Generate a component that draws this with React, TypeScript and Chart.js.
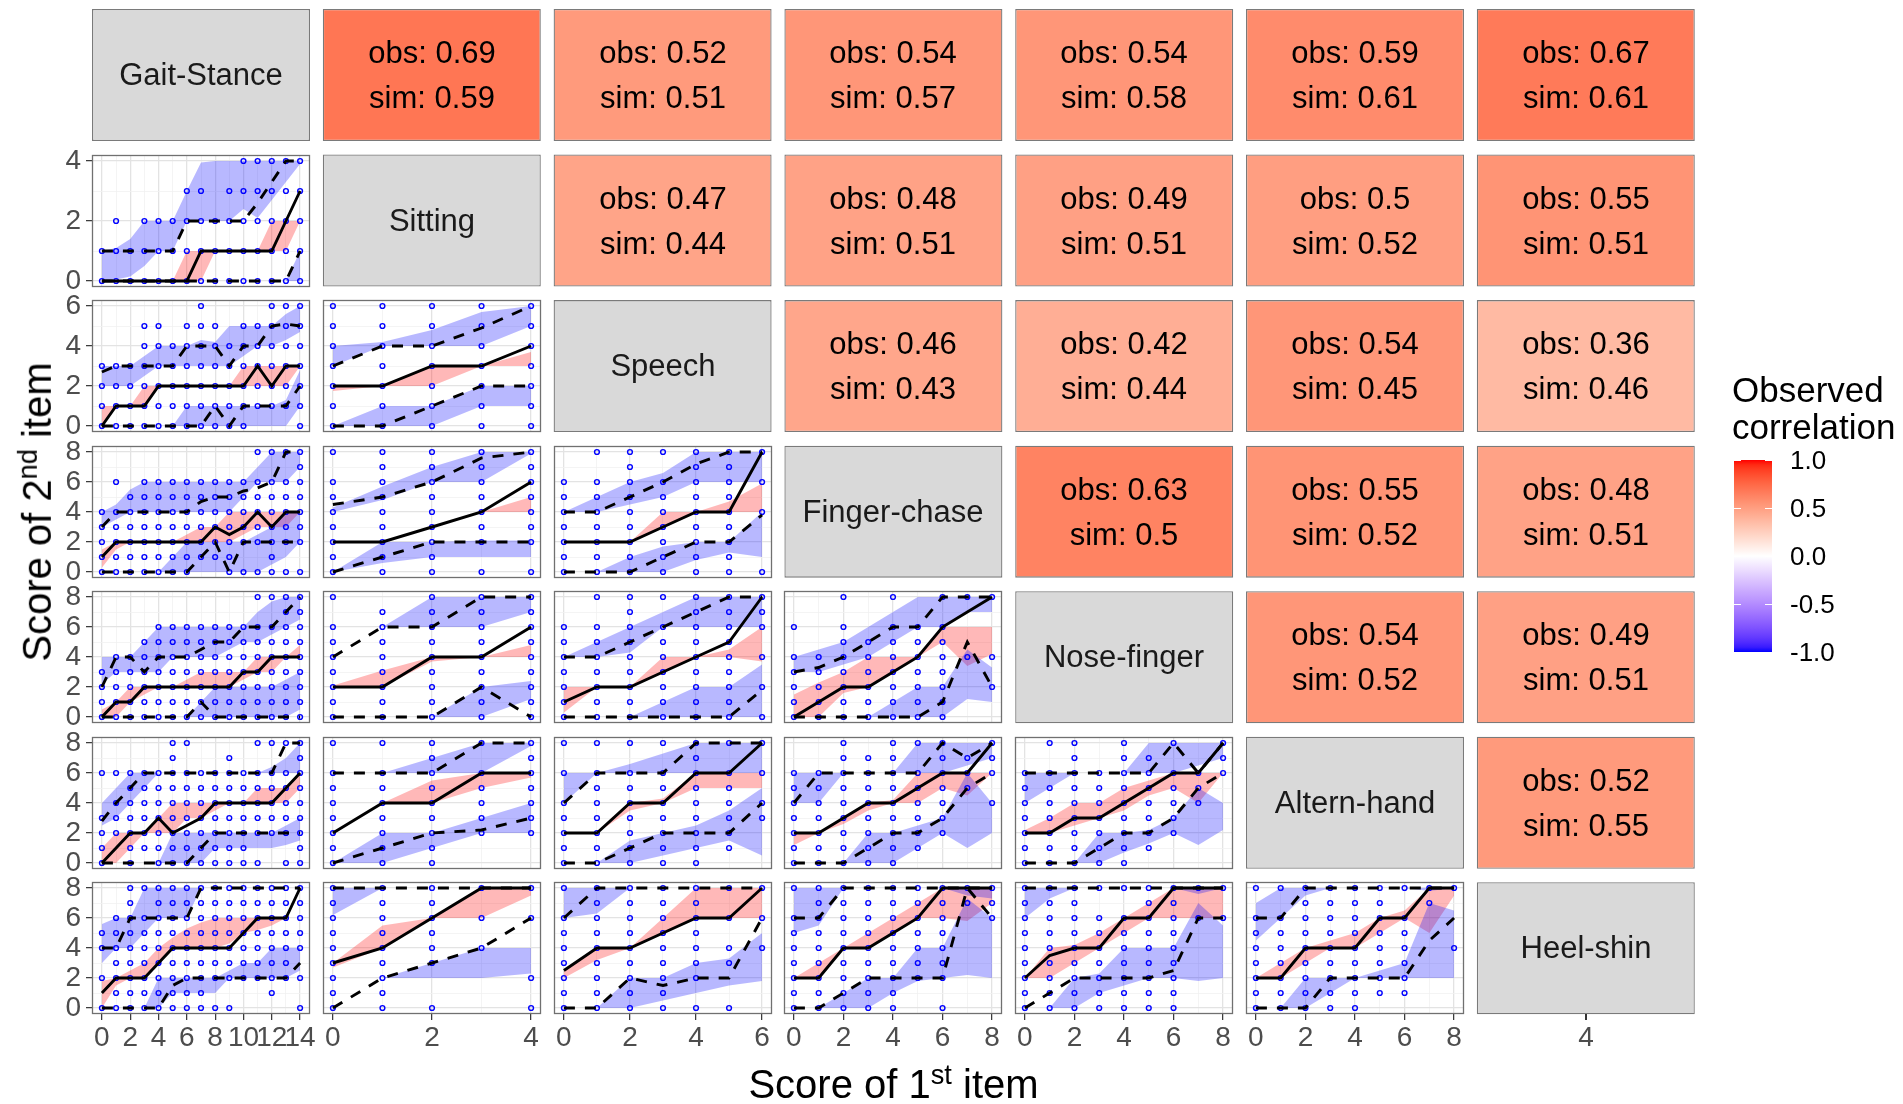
import React, { useEffect, useRef } from 'react';
import { Chart, registerables } from 'chart.js';

Chart.register(...registerables);

const FONT = '"Liberation Sans", Arial, Helvetica, sans-serif';

// ================= DATA =================
const ITEMS = ['Gait-Stance', 'Sitting', 'Speech', 'Finger-chase', 'Nose-finger', 'Altern-hand', 'Heel-shin'];
const ITEM_MAX = [14, 4, 6, 8, 8, 8, 8];
const ITEM_BREAKS = [
  [0, 2, 4, 6, 8, 10, 12, 14],
  [0, 2, 4],
  [0, 2, 4, 6],
  [0, 2, 4, 6, 8],
  [0, 2, 4, 6, 8],
  [0, 2, 4, 6, 8],
  [0, 2, 4, 6, 8],
];
const HEEL_AXIS_LABEL = '4';

// upper triangle: observed / simulated correlations (row item vs later items)
const OBS_GAIT = [0.69, 0.52, 0.54, 0.54, 0.59, 0.67];
const SIM_GAIT = [0.59, 0.51, 0.57, 0.58, 0.61, 0.61];
const OBS_SIT = [0.47, 0.48, 0.49, 0.5, 0.55];
const SIM_SIT = [0.44, 0.51, 0.51, 0.52, 0.51];
const OBS_SPEECH = [0.46, 0.42, 0.54, 0.36];
const SIM_SPEECH = [0.43, 0.44, 0.45, 0.46];
const OBS_FINGER = [0.63, 0.55, 0.48];
const SIM_FINGER = [0.5, 0.52, 0.51];
const OBS_NOSE = [0.54, 0.49];
const SIM_NOSE = [0.52, 0.51];
const OBS_ALTERN = [0.52];
const SIM_ALTERN = [0.55];

const LEGEND_BREAKS = [1, 0.5, 0, -0.5, -1];
const LEGEND_LABELS = ['1.0', '0.5', '0.0', '-0.5', '-1.0'];

// lower panels: pts = observed y-values present at each x (digits), med/lo/hi = observed lines,
// *Lo/*Hi = simulated envelopes
// Sitting vs Gait-Stance
const r2c1_pts = ['01', '012', '01', '012', '012', '012', '0123', '0123', '012', '0123', '01234', '01234', '01234', '01234', '01234'];
const r2c1_med = [0, 0, 0, 0, 0, 0, 0, 1, 1, 1, 1, 1, 1, 2, 3];
const r2c1_lo = [0, 0, 0, 0, 0, 0, 0, 0, 0, 0, 0, 0, 0, 0, 1];
const r2c1_hi = [1, 1, 1, 1, 1, 1, 2, 2, 2, 2, 2, 2.6, 3.3, 4, 4];
const r2c1_medLo = [0, 0, 0, 0, 0, 0, 0, 0, 1, 1, 1, 1, 1, 1, 2];
const r2c1_medHi = [0, 0, 0, 0, 0, 0, 1, 1, 1, 1, 1, 1, 2, 2, 2];
const r2c1_loLo = [0, 0, 0, 0, 0, 0, 0, 0, 0, 0, 0, 0, 0, 0, 0];
const r2c1_loHi = [0, 0, 0, 0, 0, 0, 0, 0, 0, 0, 0, 0, 0, 0, 1];
const r2c1_hiLo = [0, 0.05, 0.15, 0.5, 1, 1, 2, 2, 2, 2, 2.4, 2.1, 2.7, 3.3, 3.9];
const r2c1_hiHi = [1, 1.1, 1.4, 2, 2, 2, 3, 3.95, 4, 4, 4, 4, 4, 4, 4];

// Speech vs Gait-Stance
const r3c1_pts = ['0123', '0123', '0123', '012345', '012345', '01234', '012345', '0123456', '012345', '01234', '012345', '12345', '123456', '123456', '0123456'];
const r3c1_med = [0, 1, 1, 1, 2, 2, 2, 2, 2, 2, 2, 3, 2, 3, 3];
const r3c1_lo = [0, 0, 0, 0, 0, 0, 0, 0, 1, 0, 1, 1, 1, 1, 2];
const r3c1_hi = [2.7, 3, 3, 3, 3, 3, 4, 4, 4, 3, 4, 4, 5, 5.1, 5];
const r3c1_medLo = [0, 1, 1, 1, 2, 2, 2, 2, 2, 2, 2, 2, 2, 2, 3];
const r3c1_medHi = [1, 1, 1, 2, 2, 2, 2, 2, 2, 2, 3, 3, 3, 3, 3];
const r3c1_loLo = [0, 0, 0, 0, 0, 0, 0, 0, 0, 0, 0, 0, 0, 0, 1];
const r3c1_loHi = [0, 0, 0, 0, 0, 0, 1, 1, 1, 1, 1, 1, 1, 1.3, 2.8];
const r3c1_hiLo = [2, 2, 2, 2.5, 3, 3, 3, 3, 3, 3, 3.5, 4, 4, 4.3, 4.7];
const r3c1_hiHi = [3, 3, 3, 3.5, 4, 4, 4, 4.3, 4.2, 5, 5, 5, 5, 5.6, 6];

// Speech vs Sitting
const r3c2_pts = ['0123456', '0123456', '0123456', '0123456', '0123456'];
const r3c2_med = [2, 2, 3, 3, 4];
const r3c2_lo = [0, 0, 1, 2, 2];
const r3c2_hi = [3, 4, 4, 4.9, 6];
const r3c2_medLo = [1.75, 2, 2, 3, 3];
const r3c2_medHi = [2, 2, 3, 3, 3.7];
const r3c2_loLo = [0, 0, 0, 1, 1];
const r3c2_loHi = [0, 1, 1, 2, 2];
const r3c2_hiLo = [3, 4, 4, 4, 5];
const r3c2_hiHi = [4, 4.2, 4.8, 5.7, 6];

// Finger-chase vs Gait-Stance
const r4c1_pts = ['01234', '012346', '012345', '0123456', '0123456', '0123456', '0123456', '123456', '123456', '0123456', '023456', '0234568', '01234568', '0234568', '02345678'];
const r4c1_med = [1, 2, 2, 2, 2, 2, 2, 2, 3, 2.5, 3, 4, 3, 4, 4];
const r4c1_lo = [0, 0, 0, 0, 0, 0, 0, 1, 2, 0, 2, 2, 2, 2, 2];
const r4c1_hi = [3, 4, 4, 4, 4, 4, 4, 4.7, 5, 5, 5.4, 5.6, 6, 8, 8];
const r4c1_medLo = [0.3, 1.5, 2, 2, 2, 2, 2, 2, 2, 2, 2.5, 3, 3, 3, 4];
const r4c1_medHi = [1.5, 2, 2, 2, 2, 2, 2.5, 3, 3, 4, 4, 4, 4, 4, 4];
const r4c1_loLo = [0, 0, 0, 0, 0, 0, 0, 0, 0, 0, 0, 0, 0.5, 1, 2];
const r4c1_loHi = [0, 0, 0, 0, 0, 1, 2, 2, 2, 2, 2, 2.5, 3, 4, 4];
const r4c1_hiLo = [3, 3.5, 4, 4, 4, 4, 4, 4, 4, 4, 5, 6, 6, 6, 7];
const r4c1_hiHi = [4, 4.5, 5.5, 6, 6, 6, 6, 6, 6, 6, 6, 7, 8, 8, 8];

// Finger-chase vs Sitting
const r4c2_pts = ['01234568', '012345678', '012345678', '02345678', '02345678'];
const r4c2_med = [2, 2, 3, 4, 6];
const r4c2_lo = [0, 1, 2, 2, 2];
const r4c2_hi = [4.5, 5, 6, 7.6, 8];
const r4c2_medLo = [2, 2, 3, 4, 4];
const r4c2_medHi = [2, 2, 3, 4, 5];
const r4c2_loLo = [0, 0.6, 1, 1, 1];
const r4c2_loHi = [0, 2, 2, 2.1, 2.1];
const r4c2_hiLo = [4, 4.8, 6, 6, 7.9];
const r4c2_hiHi = [4.3, 5.7, 7, 8, 8];

// Finger-chase vs Speech
const r4c3_pts = ['0123456', '01234568', '012345678', '01234568', '012345678', '012345678', '0468'];
const r4c3_med = [2, 2, 2, 3, 4, 4, 8];
const r4c3_lo = [0, 0, 0, 1, 2, 2, 3.8];
const r4c3_hi = [4, 4, 5, 6, 7.2, 8, 8];
const r4c3_medLo = [2, 2, 2, 3, 4, 4, 4];
const r4c3_medHi = [2, 2, 2, 4, 4, 4.7, 5.9];
const r4c3_loLo = [0, 0, 0, 0, 0.8, 1.3, 1];
const r4c3_loHi = [0, 0, 1, 1.7, 2, 2, 4];
const r4c3_hiLo = [4, 4, 4.5, 5, 6, 6, 6];
const r4c3_hiHi = [4, 5, 6, 6.6, 8, 8, 8];

// Nose-finger vs Gait-Stance
const r5c1_pts = ['0123', '01234', '01234', '012345', '0123456', '0123456', '0123456', '0123456', '0123456', '0123456', '0123456', '01234568', '01234568', '012345678', '012345678'];
const r5c1_med = [0, 1, 1, 2, 2, 2, 2, 2, 2, 2, 3, 3, 4, 4, 4];
const r5c1_lo = [0, 0, 0, 0, 0, 0, 0, 1, 0, 0, 0, 0, 0, 0, 0];
const r5c1_hi = [2, 4, 4, 3, 4, 4, 4, 4.5, 5, 5, 6, 6, 6, 7, 8];
const r5c1_medLo = [0, 0, 1, 1.5, 2, 2, 2, 2, 2, 2, 2.5, 3, 3, 4, 4];
const r5c1_medHi = [0.5, 1, 2, 2, 2, 2, 2.5, 3, 3, 3, 3, 4, 4, 4, 4.8];
const r5c1_loLo = [0, 0, 0, 0, 0, 0, 0, 0, 0, 0, 0, 0, 0, 0, 0.5];
const r5c1_loHi = [0, 0, 0, 0, 0, 0, 0, 1, 2, 2, 2, 2, 2, 2.5, 3];
const r5c1_hiLo = [2.2, 3, 3, 3, 3, 4, 4, 4, 4, 4.5, 5, 5, 5.5, 6, 6.5];
const r5c1_hiHi = [4, 4, 4, 5, 6, 6, 6, 6, 6, 6, 6, 7, 7.7, 8, 8];

// Nose-finger vs Sitting
const r5c2_pts = ['01234568', '01234567', '012345678', '012345678', '012345678'];
const r5c2_med = [2, 2, 4, 4, 6];
const r5c2_lo = [0, 0, 0, 2, 0];
const r5c2_hi = [4, 6, 6, 8, 8];
const r5c2_medLo = [2, 2, 3.7, 4, 4];
const r5c2_medHi = [2.1, 3.1, 4, 4, 4.8];
const r5c2_loLo = [0, 0, 0, 0, 1.2];
const r5c2_loHi = [0, 0, 0, 2, 2.4];
const r5c2_hiLo = [4, 6, 6, 6, 7];
const r5c2_hiHi = [4, 6, 8, 8, 8];

// Nose-finger vs Speech
const r5c3_pts = ['0123456', '01234568', '012345678', '01234568', '012345678', '012345678', '024678'];
const r5c3_med = [1, 2, 2, 3, 4, 5, 8];
const r5c3_lo = [0, 0, 0, 0, 0, 0, 1.8];
const r5c3_hi = [4, 4, 5, 6, 7, 8, 8];
const r5c3_medLo = [0.3, 2, 2, 3, 4, 4, 3.7];
const r5c3_medHi = [2, 2, 2, 4, 4, 4.5, 6];
const r5c3_loLo = [0, 0, 0, 0, 0, 0, 0];
const r5c3_loHi = [0, 0, 0, 1, 2, 2, 3.5];
const r5c3_hiLo = [4, 4, 4.3, 6, 6, 6, 6];
const r5c3_hiHi = [4, 5, 6, 7, 8, 8, 8];

// Nose-finger vs Finger-chase
const r5c4_pts = ['012346', '01234', '01234568', '012345', '01234568', '0123456', '01234568', '48', '248'];
const r5c4_med = [0, 1, 2, 2, 3, 4, 6, 7, 8];
const r5c4_lo = [0, 0, 0, 0, 0, 0, 1, 5, 2];
const r5c4_hi = [3, 3.3, 4, 5, 6, 6, 8, 8, 8];
const r5c4_medLo = [0, 0, 1.6, 2, 3, 4, 5, 3.4, 4.2];
const r5c4_medHi = [1.5, 2.3, 3, 4, 4, 4, 6, 6, 6];
const r5c4_loLo = [0, 0, 0, 0, 0, 0, 0, 1.2, 1];
const r5c4_loHi = [0, 0, 0, 0, 1, 2, 2, 4.5, 3.3];
const r5c4_hiLo = [3, 3, 3.5, 4, 5, 6, 6, 7, 7];
const r5c4_hiHi = [4, 4.5, 5, 6, 7, 8, 8, 8, 8];

// Altern-hand vs Gait-Stance
const r6c1_pts = ['01236', '2346', '0123456', '123456', '0123456', '012345678', '01234568', '0123456', '0123456', '01234567', '0123456', '0234568', '234568', '0234568', '012345678'];
const r6c1_med = [0, 1, 2, 2, 3, 2, 2.5, 3, 4, 4, 4, 4, 4, 5, 6];
const r6c1_lo = [0, 0, 0, 0, 0, 0, 0, 1, 2, 2, 2, 2, 2, 2, 2];
const r6c1_hi = [2.8, 4, 5, 6, 6, 6, 6, 6, 6, 6, 6, 6, 6, 8, 8];
const r6c1_medLo = [0, 0, 1, 2, 2, 2, 3, 3, 3.5, 4, 4, 4, 4, 4, 5];
const r6c1_medHi = [1, 2, 2, 2, 3, 4, 4, 4, 4, 4, 4, 5, 5, 5, 6];
const r6c1_loLo = [0, 0, 0, 0, 0, 0, 0, 0, 1, 1, 1, 1, 1, 1.2, 1.5];
const r6c1_loHi = [0, 0, 0, 0, 0, 2, 2, 2, 2, 2, 2, 2, 2, 2.5, 3];
const r6c1_hiLo = [2.5, 3, 4, 5, 6, 6, 6, 6, 6, 6, 6, 6, 6, 6, 6];
const r6c1_hiHi = [4, 5, 6, 6, 6, 6, 6, 6, 6, 6, 6, 6, 6.4, 7, 8];

// Altern-hand vs Sitting
const r6c2_pts = ['01234568', '01234568', '012345678', '234568', '2345678'];
const r6c2_med = [2, 4, 4, 6, 6];
const r6c2_lo = [0, 1, 2, 2.2, 3];
const r6c2_hi = [6, 6, 6, 8, 8];
const r6c2_medLo = [2, 4, 4, 5, 5.7];
const r6c2_medHi = [2, 4, 5.5, 6, 6];
const r6c2_loLo = [0, 0, 1, 2, 2];
const r6c2_loHi = [0, 2, 2, 3, 4];
const r6c2_hiLo = [6, 6, 6, 6, 7.8];
const r6c2_hiHi = [6, 6, 7, 8, 8];

// Altern-hand vs Speech
const r6c3_pts = ['0123468', '01234568', '01234568', '01234568', '012345678', '1234568', '3468'];
const r6c3_med = [2, 2, 4, 4, 6, 6, 8];
const r6c3_lo = [0, 0, 1, 2, 2, 2, 4];
const r6c3_hi = [4, 6, 6, 6, 8, 8, 8];
const r6c3_medLo = [2, 2, 3.5, 4, 5, 5, 5];
const r6c3_medHi = [2, 2, 4, 4.3, 6, 6, 6];
const r6c3_loLo = [0, 0, 0, 0.5, 1, 1.5, 0.5];
const r6c3_loHi = [0, 0, 1.5, 2, 2.5, 3.5, 5];
const r6c3_hiLo = [4, 6, 6, 6, 6, 6, 6];
const r6c3_hiHi = [6, 6, 6.6, 7.3, 8, 8, 8];

// Altern-hand vs Finger-chase
const r6c4_pts = ['0123456', '0123456', '012345678', '01234567', '012345678', '1234568', '2345678', '567', '4678'];
const r6c4_med = [2, 2, 3, 4, 4, 5, 6, 6, 8];
const r6c4_lo = [0, 0, 0, 1, 2, 2, 3, 5, 6];
const r6c4_hi = [4, 6, 6, 6, 6, 6, 8, 7, 8];
const r6c4_medLo = [1.2, 2, 2.6, 3.5, 4, 4, 5, 4.5, 6];
const r6c4_medHi = [2, 2, 3, 4, 4.2, 6, 6, 6, 6];
const r6c4_loLo = [0, 0, 0, 0, 0, 1, 2, 1, 2];
const r6c4_loHi = [0, 0, 0, 2, 2, 2.5, 3, 6, 4];
const r6c4_hiLo = [4, 4, 6, 6, 6, 6, 6, 6.5, 7];
const r6c4_hiHi = [6, 6, 6, 6, 6, 8, 8, 8, 8];

// Altern-hand vs Nose-finger
const r6c5_pts = ['0123456', '01234568', '012345678', '0123456', '012345678', '1234567', '234568', '456', '678'];
const r6c5_med = [2, 2, 3, 3, 4, 5, 6, 6, 8];
const r6c5_lo = [0, 0, 0, 1, 2, 2, 3, 5, 6];
const r6c5_hi = [6, 6, 6, 6, 6, 6, 8, 6, 8];
const r6c5_medLo = [2, 2, 2.5, 3, 3.5, 4.5, 5, 4, 6];
const r6c5_medHi = [2.2, 3, 4, 4, 5, 5.5, 6, 6, 6];
const r6c5_loLo = [0, 0, 0, 0, 0.7, 1.3, 2, 1.2, 2.2];
const r6c5_loHi = [0, 0, 0, 2, 2, 2.2, 3, 5, 4];
const r6c5_hiLo = [4, 5, 6, 6, 6, 6, 6, 6.5, 7];
const r6c5_hiHi = [6, 6, 6, 6, 6, 8, 8, 8, 8];

// Heel-shin vs Gait-Stance
const r7c1_pts = ['0245', '0123456', '012345678', '01234568', '012345678', '012345678', '012345678', '012345678', '02345678', '02345678', '2345678', '2345678', '12345678', '2345678', '0245678'];
const r7c1_med = [1, 2, 2, 2, 3, 4, 4, 4, 4, 4, 5, 6, 6, 6, 8];
const r7c1_lo = [0, 0, 0, 0, 0, 1.5, 2, 2, 2, 2, 2, 2, 2, 2, 3];
const r7c1_hi = [4, 4, 6, 6, 6, 6, 6, 8, 8, 8, 8, 8, 8, 8, 8];
const r7c1_medLo = [0, 1.5, 2, 2, 3, 4, 4, 4, 4, 4.3, 5, 5.2, 5.5, 6, 6];
const r7c1_medHi = [1.8, 2, 2.5, 3, 4, 4.7, 5.3, 5.7, 6, 6, 6, 6, 6, 6, 6];
const r7c1_loLo = [0, 0, 0, 0, 0, 1, 1, 1, 1, 2, 2, 2, 2, 2, 2.5];
const r7c1_loHi = [0, 0, 0, 0, 2, 2, 2, 2, 2, 2.5, 3, 3, 4, 4, 4];
const r7c1_hiLo = [3, 4, 4, 5, 6, 6, 6, 8, 8, 8, 8, 8, 8, 8, 8];
const r7c1_hiHi = [5.6, 6, 6, 8, 8, 8, 8, 8, 8, 8, 8, 8, 8, 8, 8];

// Heel-shin vs Sitting
const r7c2_pts = ['012345678', '012345678', '0345678', '468', '0268'];
const r7c2_med = [3, 4, 6, 8, 8];
const r7c2_lo = [0, 2, 3, 4, 6];
const r7c2_hi = [8, 8, 8, 8, 8];
const r7c2_medLo = [2.7, 4, 6, 6, 7.5];
const r7c2_medHi = [3, 5.5, 6, 8, 8];
const r7c2_loLo = [0, 2, 2, 2, 2.3];
const r7c2_loHi = [0, 2, 3, 4, 4];
const r7c2_hiLo = [6.2, 8, 8, 8, 8];
const r7c2_hiHi = [8, 8, 8, 8, 8];

// Heel-shin vs Speech
const r7c3_pts = ['01234568', '012345678', '012345678', '012345678', '02345678', '03468', '468'];
const r7c3_med = [2.5, 4, 4, 5, 6, 6, 8];
const r7c3_lo = [0, 0, 2, 1.5, 2, 2, 6];
const r7c3_hi = [6, 8, 8, 8, 8, 8, 8];
const r7c3_medLo = [2, 3.2, 4, 5, 6, 6, 6];
const r7c3_medHi = [2.5, 4, 4, 6, 8, 8, 8];
const r7c3_loLo = [0, 0, 0, 0.5, 1, 1.5, 1.8];
const r7c3_loHi = [0, 0, 2, 2, 3, 3.3, 5];
const r7c3_hiLo = [6, 6.3, 8, 8, 8, 8, 8];
const r7c3_hiHi = [8, 8, 8, 8, 8, 8, 8];

// Heel-shin vs Finger-chase
const r7c4_pts = ['01234568', '012345678', '012345678', '012345678', '012345678', '2345678', '02345678', '78', '678'];
const r7c4_med = [2, 2, 4, 4, 5, 6, 8, 8, 8];
const r7c4_lo = [0, 0, 1, 2, 2, 2, 2, 8, 6];
const r7c4_hi = [6, 6, 8, 8, 8, 8, 8, 8, 8];
const r7c4_medLo = [2, 2, 4, 4, 5, 6, 6, 5.8, 7];
const r7c4_medHi = [2, 3, 4, 5, 6, 7, 8, 8, 8];
const r7c4_loLo = [0, 0, 0, 0, 1, 1.8, 2, 2.2, 2];
const r7c4_loHi = [0, 0, 1, 2, 2, 4, 4, 7.3, 6];
const r7c4_hiLo = [5, 5.5, 8, 8, 8, 8, 8, 7.5, 7.3];
const r7c4_hiHi = [8, 8, 8, 8, 8, 8, 8, 8, 8];

// Heel-shin vs Nose-finger
const r7c5_pts = ['012345678', '012345678', '012345678', '01234568', '01234568', '012345678', '012345678', '68', '68'];
const r7c5_med = [2, 3.5, 4, 4, 6, 6, 8, 8, 8];
const r7c5_lo = [0, 1, 2, 2, 2, 2, 2.5, 6, 6];
const r7c5_hi = [8, 8, 8, 8, 8, 8, 8, 8, 8];
const r7c5_medLo = [2, 2, 3, 4, 5, 6, 6, 6, 6];
const r7c5_medHi = [2, 4, 4.2, 5, 6, 7, 8, 8, 8];
const r7c5_loLo = [0, 0, 0, 1, 1.5, 2, 2, 1.8, 2];
const r7c5_loHi = [0, 0, 2, 2.3, 4, 4, 4, 7, 5.5];
const r7c5_hiLo = [6, 7.3, 8, 8, 8, 8, 8, 7.6, 8];
const r7c5_hiHi = [8, 8, 8, 8, 8, 8, 8, 8, 8];

// Heel-shin vs Altern-hand
const r7c6_pts = ['01234568', '01234568', '012345678', '012345678', '012345678', '12345678', '1234568', '78', '48'];
const r7c6_med = [2, 2, 4, 4, 4, 6, 6, 8, 8];
const r7c6_lo = [0, 0, 0, 2, 2, 2, 2, 4.5, 6];
const r7c6_hi = [6, 6, 8, 8, 8, 8, 8, 8, 8];
const r7c6_medLo = [2, 2, 3, 4, 4, 5, 6, 5, 7.5];
const r7c6_medHi = [2, 3, 4, 4.5, 5, 6, 6.5, 8, 8];
const r7c6_loLo = [0, 0, 0, 1, 2, 2, 2, 2, 2];
const r7c6_loHi = [0, 0, 2, 2, 2, 2.5, 3, 7, 6.5];
const r7c6_hiLo = [4.5, 6, 7.5, 8, 8, 8, 8, 7.8, 8];
const r7c6_hiHi = [7, 8, 8, 8, 8, 8, 8, 8, 8];

// ================= TABLES BUILT FROM DATA =================
const OBS_ROWS = [OBS_GAIT, OBS_SIT, OBS_SPEECH, OBS_FINGER, OBS_NOSE, OBS_ALTERN];
const SIM_ROWS = [SIM_GAIT, SIM_SIT, SIM_SPEECH, SIM_FINGER, SIM_NOSE, SIM_ALTERN];

type PanelSpec = {
  r: number; c: number; pts: string[]; med: number[]; lo: number[]; hi: number[];
  medLo: number[]; medHi: number[]; loLo: number[]; loHi: number[]; hiLo: number[]; hiHi: number[];
};
const P = (r: number, c: number, pts: string[], med: number[], lo: number[], hi: number[],
  medLo: number[], medHi: number[], loLo: number[], loHi: number[], hiLo: number[], hiHi: number[]): PanelSpec =>
  ({ r, c, pts, med, lo, hi, medLo, medHi, loLo, loHi, hiLo, hiHi });

const PANELS: PanelSpec[] = [
  P(1, 0, r2c1_pts, r2c1_med, r2c1_lo, r2c1_hi, r2c1_medLo, r2c1_medHi, r2c1_loLo, r2c1_loHi, r2c1_hiLo, r2c1_hiHi),
  P(2, 0, r3c1_pts, r3c1_med, r3c1_lo, r3c1_hi, r3c1_medLo, r3c1_medHi, r3c1_loLo, r3c1_loHi, r3c1_hiLo, r3c1_hiHi),
  P(2, 1, r3c2_pts, r3c2_med, r3c2_lo, r3c2_hi, r3c2_medLo, r3c2_medHi, r3c2_loLo, r3c2_loHi, r3c2_hiLo, r3c2_hiHi),
  P(3, 0, r4c1_pts, r4c1_med, r4c1_lo, r4c1_hi, r4c1_medLo, r4c1_medHi, r4c1_loLo, r4c1_loHi, r4c1_hiLo, r4c1_hiHi),
  P(3, 1, r4c2_pts, r4c2_med, r4c2_lo, r4c2_hi, r4c2_medLo, r4c2_medHi, r4c2_loLo, r4c2_loHi, r4c2_hiLo, r4c2_hiHi),
  P(3, 2, r4c3_pts, r4c3_med, r4c3_lo, r4c3_hi, r4c3_medLo, r4c3_medHi, r4c3_loLo, r4c3_loHi, r4c3_hiLo, r4c3_hiHi),
  P(4, 0, r5c1_pts, r5c1_med, r5c1_lo, r5c1_hi, r5c1_medLo, r5c1_medHi, r5c1_loLo, r5c1_loHi, r5c1_hiLo, r5c1_hiHi),
  P(4, 1, r5c2_pts, r5c2_med, r5c2_lo, r5c2_hi, r5c2_medLo, r5c2_medHi, r5c2_loLo, r5c2_loHi, r5c2_hiLo, r5c2_hiHi),
  P(4, 2, r5c3_pts, r5c3_med, r5c3_lo, r5c3_hi, r5c3_medLo, r5c3_medHi, r5c3_loLo, r5c3_loHi, r5c3_hiLo, r5c3_hiHi),
  P(4, 3, r5c4_pts, r5c4_med, r5c4_lo, r5c4_hi, r5c4_medLo, r5c4_medHi, r5c4_loLo, r5c4_loHi, r5c4_hiLo, r5c4_hiHi),
  P(5, 0, r6c1_pts, r6c1_med, r6c1_lo, r6c1_hi, r6c1_medLo, r6c1_medHi, r6c1_loLo, r6c1_loHi, r6c1_hiLo, r6c1_hiHi),
  P(5, 1, r6c2_pts, r6c2_med, r6c2_lo, r6c2_hi, r6c2_medLo, r6c2_medHi, r6c2_loLo, r6c2_loHi, r6c2_hiLo, r6c2_hiHi),
  P(5, 2, r6c3_pts, r6c3_med, r6c3_lo, r6c3_hi, r6c3_medLo, r6c3_medHi, r6c3_loLo, r6c3_loHi, r6c3_hiLo, r6c3_hiHi),
  P(5, 3, r6c4_pts, r6c4_med, r6c4_lo, r6c4_hi, r6c4_medLo, r6c4_medHi, r6c4_loLo, r6c4_loHi, r6c4_hiLo, r6c4_hiHi),
  P(5, 4, r6c5_pts, r6c5_med, r6c5_lo, r6c5_hi, r6c5_medLo, r6c5_medHi, r6c5_loLo, r6c5_loHi, r6c5_hiLo, r6c5_hiHi),
  P(6, 0, r7c1_pts, r7c1_med, r7c1_lo, r7c1_hi, r7c1_medLo, r7c1_medHi, r7c1_loLo, r7c1_loHi, r7c1_hiLo, r7c1_hiHi),
  P(6, 1, r7c2_pts, r7c2_med, r7c2_lo, r7c2_hi, r7c2_medLo, r7c2_medHi, r7c2_loLo, r7c2_loHi, r7c2_hiLo, r7c2_hiHi),
  P(6, 2, r7c3_pts, r7c3_med, r7c3_lo, r7c3_hi, r7c3_medLo, r7c3_medHi, r7c3_loLo, r7c3_loHi, r7c3_hiLo, r7c3_hiHi),
  P(6, 3, r7c4_pts, r7c4_med, r7c4_lo, r7c4_hi, r7c4_medLo, r7c4_medHi, r7c4_loLo, r7c4_loHi, r7c4_hiLo, r7c4_hiHi),
  P(6, 4, r7c5_pts, r7c5_med, r7c5_lo, r7c5_hi, r7c5_medLo, r7c5_medHi, r7c5_loLo, r7c5_loHi, r7c5_hiLo, r7c5_hiHi),
  P(6, 5, r7c6_pts, r7c6_med, r7c6_lo, r7c6_hi, r7c6_medLo, r7c6_medHi, r7c6_loLo, r7c6_loHi, r7c6_hiLo, r7c6_hiHi),
];

// ================= LAYOUT / STYLE =================
const PAGE_W = 1903, PAGE_H = 1104;
const PX0 = 92, PSX = 230.8, PW = 218;
const PY0 = 9, PSY = 145.55, PH = 132;
const colLeft = (c: number) => Math.round(PX0 + c * PSX);
const rowTop = (r: number) => Math.round(PY0 + r * PSY);

const BLUE_RIB = 'rgba(0,0,255,0.28)';
const RED_RIB = 'rgba(255,0,0,0.28)';
const DIAG_FILL = '#d9d9d9';
const TILE_BORDER = '#7a7a7a';
const TICK_FONT = 28;

// colour scale: blue - white - red interpolated in CIE Lab
const LAB_WHITE = [100, 0, 0];
const LAB_RED = [53.24, 80.09, 67.2];
const LAB_BLUE = [32.3, 79.19, -107.86];
function labToRgb(L: number, a: number, b: number) {
  const fy = (L + 16) / 116, fx = fy + a / 500, fz = fy - b / 200;
  const finv = (t: number) => (t > 6 / 29 ? t * t * t : 3 * (6 / 29) * (6 / 29) * (t - 4 / 29));
  const X = 0.95047 * finv(fx), Y = finv(fy), Z = 1.08883 * finv(fz);
  const rl = 3.2406 * X - 1.5372 * Y - 0.4986 * Z;
  const gl = -0.9689 * X + 1.8758 * Y + 0.0415 * Z;
  const bl = 0.0557 * X - 0.204 * Y + 1.057 * Z;
  const gam = (u: number) => {
    const v = Math.min(1, Math.max(0, u));
    return Math.round(255 * (v <= 0.0031308 ? 12.92 * v : 1.055 * Math.pow(v, 1 / 2.4) - 0.055));
  };
  return `rgb(${gam(rl)},${gam(gl)},${gam(bl)})`;
}
function corrColor(v: number) {
  const end = v >= 0 ? LAB_RED : LAB_BLUE;
  const t = Math.min(1, Math.abs(v));
  return labToRgb(
    LAB_WHITE[0] + (end[0] - LAB_WHITE[0]) * t,
    LAB_WHITE[1] + (end[1] - LAB_WHITE[1]) * t,
    LAB_WHITE[2] + (end[2] - LAB_WHITE[2]) * t,
  );
}

const toXY = (arr: number[]) => arr.map((y, x) => ({ x, y }));
const ptsXY = (pts: string[]) => {
  const out: { x: number; y: number }[] = [];
  pts.forEach((s, x) => { for (const ch of s) out.push({ x, y: Number(ch) }); });
  return out;
};

const panelBorder = {
  id: 'panelBorder',
  afterDraw(chart: any) {
    const { ctx, chartArea: a } = chart;
    ctx.save();
    ctx.strokeStyle = '#707070';
    ctx.lineWidth = 1.3;
    ctx.strokeRect(a.left + 0.5, a.top + 0.5, a.right - a.left - 1, a.bottom - a.top - 1);
    ctx.restore();
  },
};

const Y_AXIS_W = 46, X_AXIS_H = 46;
const MARGIN = 18;

function mkScale(axis: 'x' | 'y', max: number, breaks: number[], show: boolean) {
  const isMajor = (v: number) => breaks.includes(v);
  const vals: number[] = [];
  for (let v = 0; v <= max; v++) vals.push(v);
  const tv = (ctx: any) => (ctx && ctx.tick ? ctx.tick.value : 0);
  return {
    type: 'linear',
    position: axis === 'x' ? 'bottom' : 'left',
    min: -0.05 * max,
    max: 1.05 * max,
    afterBuildTicks: (s: any) => { s.ticks = vals.map((v) => ({ value: v })); },
    afterFit: (s: any) => {
      if (axis === 'x') s.height = show ? X_AXIS_H : 0; else s.width = show ? Y_AXIS_W : 0;
      s.paddingLeft = 0; s.paddingRight = 0; s.paddingTop = 0; s.paddingBottom = 0;
    },
    border: { display: false },
    grid: {
      color: (ctx: any) => (isMajor(tv(ctx)) ? '#e3e3e3' : '#f1f1f1'),
      lineWidth: (ctx: any) => (isMajor(tv(ctx)) ? 1.3 : 0.8),
      drawTicks: show,
      tickLength: 6,
      tickWidth: 1.2,
      tickColor: (ctx: any) => (isMajor(tv(ctx)) ? '#333333' : 'rgba(0,0,0,0)'),
    },
    ticks: {
      display: show,
      autoSkip: false,
      maxRotation: 0,
      minRotation: 0,
      padding: axis === 'x' ? 1 : 5,
      color: '#4d4d4d',
      font: { family: FONT, size: TICK_FONT },
      callback: (v: any) => (isMajor(Number(v)) ? String(v) : ''),
    },
  };
}

function LowerPanel({ p }: { p: PanelSpec }) {
  const ref = useRef<HTMLCanvasElement>(null);
  const showY = p.c === 0;
  const showX = p.r === 6;
  const W = showY ? Y_AXIS_W : 0;
  const H = showX ? X_AXIS_H : 0;
  const left = colLeft(p.c) - W - MARGIN;
  const top = rowTop(p.r) - MARGIN;
  const width = PW + W + 2 * MARGIN;
  const height = PH + H + 2 * MARGIN;

  useEffect(() => {
    if (!ref.current) return;
    const line = (data: number[], dashed: boolean) => ({
      data: toXY(data), borderColor: '#000000', borderWidth: 2.9, borderDash: dashed ? [11, 10] : [],
      pointRadius: 0, fill: false, order: 0, tension: 0,
    });
    const bandLo = (data: number[]) => ({
      data: toXY(data), borderColor: 'rgba(0,0,0,0)', borderWidth: 0, pointRadius: 0, fill: false, order: 3,
    });
    const bandHi = (data: number[], color: string) => ({
      data: toXY(data), borderColor: 'rgba(0,0,0,0)', borderWidth: 0, pointRadius: 0, fill: '-1',
      backgroundColor: color, order: 3,
    });
    const datasets: any[] = [
      line(p.med, false),
      line(p.lo, true),
      line(p.hi, true),
      {
        data: ptsXY(p.pts), showLine: false, pointRadius: 2.4, pointBorderWidth: 1.4,
        pointBorderColor: '#0000ff', pointBackgroundColor: 'rgba(0,0,0,0)', borderColor: 'rgba(0,0,0,0)',
        fill: false, order: 1,
      },
      bandLo(p.loLo), bandHi(p.loHi, BLUE_RIB),
      bandLo(p.hiLo), bandHi(p.hiHi, BLUE_RIB),
      bandLo(p.medLo), bandHi(p.medHi, RED_RIB),
    ];
    const chart = new Chart(ref.current, {
      type: 'line',
      data: { datasets },
      options: {
        responsive: false,
        animation: false,
        events: [],
        layout: { padding: { left: MARGIN, right: MARGIN, top: MARGIN, bottom: MARGIN } },
        plugins: {
          legend: { display: false },
          tooltip: { enabled: false },
          filler: { propagate: false, drawTime: 'beforeDatasetsDraw' },
        },
        scales: {
          x: mkScale('x', ITEM_MAX[p.c], ITEM_BREAKS[p.c], showX),
          y: mkScale('y', ITEM_MAX[p.r], ITEM_BREAKS[p.r], showY),
        },
      } as any,
      plugins: [panelBorder],
    } as any);
    return () => chart.destroy();
  }, []);

  return (
    <canvas
      ref={ref}
      width={width}
      height={height}
      style={{ position: 'absolute', left, top, width, height }}
    />
  );
}

function TileChart() {
  const ref = useRef<HTMLCanvasElement>(null);
  useEffect(() => {
    if (!ref.current) return;
    const gy = (PSY - PH) / 2 / PSY;
    const datasets = ITEMS.map((_, r) => ({
      data: ITEMS.map((__, c) => (c >= r ? [r + gy, r + 1 - gy] : null)),
      backgroundColor: ITEMS.map((__, c) =>
        c === r ? DIAG_FILL : c > r ? corrColor(OBS_ROWS[r][c - r - 1]) : 'rgba(0,0,0,0)'),
      borderColor: TILE_BORDER,
      borderWidth: 1.3,
      borderSkipped: false,
      grouped: false,
      barPercentage: PW / PSX,
      categoryPercentage: 1,
    }));
    const padL = PX0 - (PSX - PW) / 2;
    const padT = PY0 - (PSY - PH) / 2;
    const chart = new Chart(ref.current, {
      type: 'bar',
      data: { labels: ITEMS, datasets },
      options: {
        responsive: false,
        animation: false,
        events: [],
        layout: {
          padding: { left: padL, top: padT, right: PAGE_W - padL - 7 * PSX, bottom: PAGE_H - padT - 7 * PSY },
        },
        plugins: { legend: { display: false }, tooltip: { enabled: false } },
        scales: {
          x: { type: 'category', display: false, offset: true },
          y: { type: 'linear', display: false, min: 0, max: 7, reverse: true },
        },
      } as any,
    } as any);
    return () => chart.destroy();
  }, []);
  return (
    <canvas
      ref={ref}
      width={PAGE_W}
      height={PAGE_H}
      style={{ position: 'absolute', left: 0, top: 0, width: PAGE_W, height: PAGE_H }}
    />
  );
}

function Legend() {
  const barL = 1734, barT = 460, barW = 38, barH = 192;
  const stops: string[] = [];
  for (let i = 0; i <= 40; i++) {
    const v = 1 - i / 20;
    stops.push(`${corrColor(v)} ${(i / 40) * 100}%`);
  }
  const yOf = (v: number) => barT + ((1 - v) / 2) * barH;
  return (
    <>
      <div style={{ position: 'absolute', left: 1732, top: 371, fontFamily: FONT, fontSize: 35, lineHeight: '37px', color: '#000', whiteSpace: 'nowrap' }}>
        Observed<br />correlation
      </div>
      <div style={{ position: 'absolute', left: barL, top: barT, width: barW, height: barH, background: `linear-gradient(to bottom, ${stops.join(', ')})` }} />
      {LEGEND_BREAKS.map((v, i) => (
        <React.Fragment key={i}>
          <div style={{ position: 'absolute', left: barL, top: yOf(v) - 0.5, width: 7, height: 1, background: '#fff' }} />
          <div style={{ position: 'absolute', left: barL + barW - 7, top: yOf(v) - 0.5, width: 7, height: 1, background: '#fff' }} />
          <div style={{ position: 'absolute', left: 1790, top: yOf(v) - 15, height: 30, lineHeight: '30px', fontFamily: FONT, fontSize: 26, color: '#000', whiteSpace: 'nowrap' }}>
            {LEGEND_LABELS[i]}
          </div>
        </React.Fragment>
      ))}
    </>
  );
}

export default function App() {
  const tileTexts: JSX.Element[] = [];
  for (let r = 0; r < 6; r++) {
    for (let c = r + 1; c < 7; c++) {
      tileTexts.push(
        <div key={`t${r}${c}`} style={{
          position: 'absolute', left: colLeft(c), top: rowTop(r), width: PW, height: PH,
          display: 'flex', flexDirection: 'column', alignItems: 'center', justifyContent: 'center',
          fontFamily: FONT, fontSize: 31, lineHeight: '45px', color: '#000', whiteSpace: 'nowrap',
        }}>
          <div>{`obs: ${OBS_ROWS[r][c - r - 1]}`}</div>
          <div>{`sim: ${SIM_ROWS[r][c - r - 1]}`}</div>
        </div>,
      );
    }
  }
  const diagTexts = ITEMS.map((name, i) => (
    <div key={`d${i}`} style={{
      position: 'absolute', left: colLeft(i), top: rowTop(i), width: PW, height: PH,
      display: 'flex', alignItems: 'center', justifyContent: 'center',
      fontFamily: FONT, fontSize: 31, color: '#1a1a1a', whiteSpace: 'nowrap',
    }}>{name}</div>
  ));
  const heelX = colLeft(6) + PW / 2;
  const bottom = rowTop(6) + PH;

  return (
    <div style={{ position: 'absolute', left: 0, top: 0, width: PAGE_W, height: PAGE_H, overflow: 'hidden', background: '#fff' }}>
      <TileChart />
      {PANELS.map((p, i) => <LowerPanel key={i} p={p} />)}
      {tileTexts}
      {diagTexts}
      <div style={{ position: 'absolute', left: heelX - 0.6, top: bottom, width: 1.2, height: 6, background: '#333' }} />
      <div style={{ position: 'absolute', left: heelX - 20, top: bottom + 9, width: 40, textAlign: 'center', fontFamily: FONT, fontSize: TICK_FONT, lineHeight: `${TICK_FONT}px`, color: '#4d4d4d' }}>
        {HEEL_AXIS_LABEL}
      </div>
      <div style={{ position: 'absolute', left: (PX0 + colLeft(6) + PW) / 2, top: 1083, transform: 'translate(-50%, -50%)', fontFamily: FONT, fontSize: 40, color: '#000', whiteSpace: 'nowrap' }}>
        Score of 1<sup style={{ fontSize: '0.68em' }}>st</sup> item
      </div>
      <div style={{ position: 'absolute', left: 36, top: (PY0 + rowTop(6) + PH) / 2, transform: 'translate(-50%, -50%) rotate(-90deg)', fontFamily: FONT, fontSize: 40, color: '#000', whiteSpace: 'nowrap' }}>
        Score of 2<sup style={{ fontSize: '0.68em' }}>nd</sup> item
      </div>
      <Legend />
    </div>
  );
}
